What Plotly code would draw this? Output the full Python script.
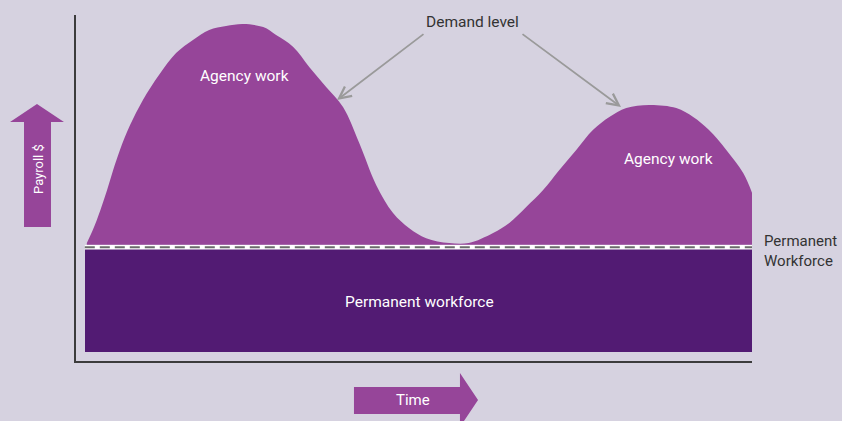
import plotly.graph_objects as go

# ——— Data (arbitrary units: time 0-100, payroll 0-100) ———
time_pts = [1.6, 2.5, 3.6, 4.6, 5.5, 6.5, 8.0, 9.9, 12.3, 14.8, 17.3,
            19.7, 22.2, 24.7, 27.7, 29.6, 32.1, 34.5, 37.0, 39.5, 41.9,
            44.4, 46.9, 49.3, 51.8, 55.2, 58.1, 61.7, 64.1, 66.6, 69.1,
            71.5, 74.0, 76.5, 78.9, 81.4, 84.8, 88.8, 91.3, 93.6, 96.2,
            98.7, 100.0]
demand   = [34.1, 37.9, 43.6, 49.4, 55.2, 61.0, 68.2, 75.4, 82.7, 89.0, 92.8,
            95.7, 96.8, 97.4, 96.5, 94.2, 90.8, 85.0, 79.2, 73.4, 63.0,
            50.9, 42.8, 38.4, 35.5, 34.1, 34.1, 37.0, 39.9, 44.5, 49.4,
            55.2, 61.0, 66.8, 70.5, 73.1, 74.0, 73.1, 70.5, 66.8, 61.0,
            54.3, 48.6]
perm_span  = [1.3, 100.0]     # time extent of permanent workforce block
perm_floor = 2.6
perm_level = 32.4
demand_base = 33.6            # agency work sits on top of this
dash_level = 32.9
# ——————————————————

BG      = "#d6d2e0"
AGENCY  = "#964599"
PERM    = "#521b73"
AXIS    = "#3c3c3c"
TEXT    = "#333333"
FONT    = "Roboto"

W, H = 842, 421
L, R, T, B = 76, 752, 15, 361   # plot area in pixels


def px_x(px):
    return (px - L) / (R - L)


def px_y(py):
    return (B - py) / (B - T)


def path(points):
    s = "M" + " L".join(f"{px_x(x):.4f},{px_y(y):.4f}" for x, y in points)
    return s + " Z"


fig = go.Figure()

# permanent workforce block
fig.add_trace(go.Bar(
    x=[(perm_span[0] + perm_span[1]) / 2],
    y=[perm_level - perm_floor],
    base=[perm_floor],
    width=[perm_span[1] - perm_span[0]],
    marker=dict(color=PERM, line=dict(width=0)),
    hoverinfo="skip",
))

# agency work fill: base line then demand curve filled to it
fig.add_trace(go.Scatter(
    x=[time_pts[0], time_pts[-1]], y=[demand_base, demand_base],
    mode="lines", line=dict(width=0, color=AGENCY), hoverinfo="skip",
))
fig.add_trace(go.Scatter(
    x=time_pts, y=demand, mode="lines",
    line=dict(shape="spline", smoothing=1.0, width=0, color=AGENCY),
    fill="tonexty", fillcolor=AGENCY, hoverinfo="skip",
))

# white band + grey dashes at permanent level
fig.add_trace(go.Scatter(
    x=perm_span, y=[dash_level, dash_level], mode="lines",
    line=dict(color="white", width=4.5), hoverinfo="skip",
))
fig.add_trace(go.Scatter(
    x=perm_span, y=[dash_level, dash_level], mode="lines",
    line=dict(color="#6b6b6b", width=2, dash="10px,5px"), hoverinfo="skip",
))

# axis arrows (Payroll $ up, Time right)
fig.add_shape(type="path", xref="paper", yref="paper", line_width=0,
              fillcolor=AGENCY,
              path=path([(24, 227), (24, 122), (10, 122), (37, 104),
                         (64, 122), (51, 122), (51, 227)]))
fig.add_shape(type="path", xref="paper", yref="paper", line_width=0,
              fillcolor=AGENCY,
              path=path([(354, 387), (460, 387), (460, 373), (478, 400),
                         (460, 427), (460, 414), (354, 414)]))

annos = [
    dict(x=px_x(38), y=px_y(169), text="Payroll $", textangle=-90,
         font=dict(color="white", size=13)),
    dict(x=px_x(413), y=px_y(400), text="Time",
         font=dict(color="white", size=15)),
    dict(x=px_x(244), y=px_y(76), text="Agency work",
         font=dict(color="white", size=15.5)),
    dict(x=px_x(668), y=px_y(159), text="Agency work",
         font=dict(color="white", size=15.5)),
    dict(x=px_x(419), y=px_y(302), text="Permanent workforce",
         font=dict(color="white", size=15.5)),
    dict(x=px_x(472), y=px_y(22), text="Demand level",
         font=dict(color=TEXT, size=15.5)),
]
for a in annos:
    fig.add_annotation(xref="paper", yref="paper", showarrow=False,
                       xanchor="center", yanchor="middle", **a)

fig.add_annotation(xref="paper", yref="paper", showarrow=False,
                   x=px_x(762), y=px_y(251), text="Permanent<br>Workforce",
                   xanchor="left", yanchor="middle", align="left",
                   font=dict(color=TEXT, size=15))

# arrows from "Demand level" to the curve
for tip, tail in [((337, 100), (425, 33)), ((621, 107), (521, 33))]:
    fig.add_annotation(
        xref="paper", yref="paper", axref="pixel", ayref="pixel",
        x=px_x(tip[0]), y=px_y(tip[1]),
        ax=tail[0] - tip[0], ay=tail[1] - tip[1],
        text="", showarrow=True, arrowhead=5, arrowsize=1.3,
        arrowwidth=1.8, arrowcolor="#9a9a9a",
    )

fig.update_layout(
    width=W, height=H,
    margin=dict(l=L, r=W - R, t=T, b=H - B, pad=0),
    paper_bgcolor=BG, plot_bgcolor=BG,
    showlegend=False, hovermode=False,
    font=dict(family=FONT, color=TEXT),
    bargap=0,
)
fig.update_xaxes(range=[0, 100], showline=True, linecolor=AXIS, linewidth=2,
                 showgrid=False, zeroline=False, showticklabels=False,
                 ticks="", fixedrange=True)
fig.update_yaxes(range=[0, 100], showline=True, linecolor=AXIS, linewidth=2,
                 showgrid=False, zeroline=False, showticklabels=False,
                 ticks="", fixedrange=True)

fig.write_html("out.html", config={"displayModeBar": False},
               post_script="document.body.style.margin='0';")
